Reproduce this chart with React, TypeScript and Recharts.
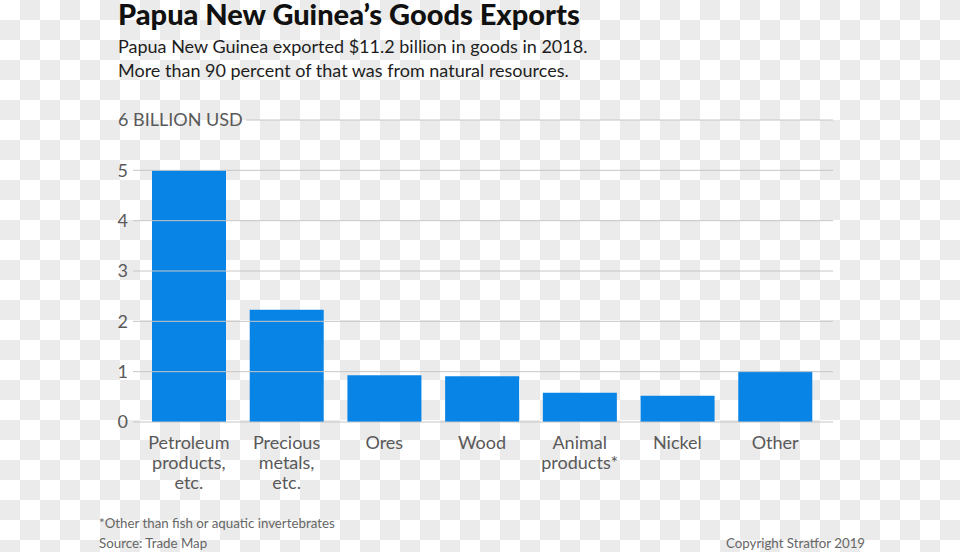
import React from 'react';
import { BarChart, Bar, XAxis, YAxis, ReferenceLine } from 'recharts';

const categories = [
  'Petroleum\nproducts,\netc.',
  'Precious\nmetals,\netc.',
  'Ores',
  'Wood',
  'Animal\nproducts*',
  'Nickel',
  'Other',
];
const exportsBn = [5.0, 2.23, 0.93, 0.91, 0.58, 0.52, 1.01];
const yTicks = [0, 1, 2, 3, 4, 5, 6];

const data = categories.map((name, i) => ({ name, value: exportsBn[i] }));

const FONT = 'Lato, "Open Sans", sans-serif';
const GRID = '#c6c6c6';
const LABEL = '#595959';

const checker = {
  backgroundColor: '#ffffff',
  backgroundImage:
    'conic-gradient(#ebebeb 0 25%, transparent 0 50%, #ebebeb 0 75%, transparent 0)',
  backgroundSize: '40px 40px',
  backgroundPosition: '0 0',
};

function YTick(props: any) {
  const { x, y, payload } = props;
  if (payload.value === 6) {
    return (
      <text x={x - 10} y={y} dy="0.35em" textAnchor="start" fill={LABEL} fontSize={18} fontFamily={FONT}>
        6 BILLION USD
      </text>
    );
  }
  return (
    <text x={x} y={y} dy="0.35em" textAnchor="end" fill={LABEL} fontSize={18} fontFamily={FONT}>
      {payload.value}
    </text>
  );
}

function XTick(props: any) {
  const { x, y, payload } = props;
  const lines = String(payload.value).split('\n');
  return (
    <text x={x} y={y + 27} textAnchor="middle" fill={LABEL} fontSize={18} fontFamily={FONT}>
      {lines.map((l, i) => (
        <tspan key={i} x={x} dy={i === 0 ? 0 : 20}>
          {l}
        </tspan>
      ))}
    </text>
  );
}

// top gridline starts after the "6 BILLION USD" label
const topLine = (p: any) => (
  <line x1={p.x1 + 113} y1={p.y1} x2={p.x2} y2={p.y2} stroke={GRID} strokeWidth={1} />
);

const foot = { position: 'absolute' as const, fontFamily: FONT, fontSize: 13.3, color: '#666', whiteSpace: 'nowrap' as const };

export default function App() {
  return (
    <div style={{ position: 'absolute', left: 0, top: 0, width: 960, height: 552, overflow: 'hidden', ...checker }}>
      <div style={{ position: 'absolute', left: 118, top: -1, fontFamily: FONT, fontWeight: 900, fontSize: 29, lineHeight: '30px', color: '#111', whiteSpace: 'nowrap' }}>
        Papua New Guinea’s Goods Exports
      </div>
      <div style={{ position: 'absolute', left: 118, top: 34, fontFamily: FONT, fontSize: 18, lineHeight: '24px', color: '#1e1e1e', whiteSpace: 'nowrap' }}>
        Papua New Guinea exported $11.2 billion in goods in 2018.
        <br />
        More than 90 percent of that was from natural resources.
      </div>
      <div style={{ position: 'absolute', left: 0, top: 0 }}>
        <BarChart width={960} height={552} data={data} margin={{ top: 120, right: 127, bottom: 50, left: 0 }}>
          {yTicks.slice(0, 6).map((t) => (
            <ReferenceLine key={t} y={t} stroke={GRID} strokeWidth={1} />
          ))}
          <ReferenceLine y={6} shape={topLine} />
          <XAxis
            dataKey="name"
            height={80}
            axisLine={false}
            tickLine={false}
            tickSize={0}
            tickMargin={0}
            interval={0}
            padding={{ left: 7, right: 9 }}
            tick={<XTick />}
          />
          <YAxis
            width={133}
            domain={[0, 6]}
            ticks={yTicks}
            axisLine={false}
            tickLine={false}
            tickSize={0}
            tickMargin={5}
            tick={<YTick />}
          />
          <Bar dataKey="value" fill="#0884e6" barSize={74} isAnimationActive={false} />
        </BarChart>
      </div>
      <div style={{ ...foot, left: 99, top: 515 }}>*Other than fish or aquatic invertebrates</div>
      <div style={{ ...foot, left: 99, top: 535 }}>Source: Trade Map</div>
      <div style={{ ...foot, left: 726, top: 535 }}>Copyright Stratfor 2019</div>
    </div>
  );
}
